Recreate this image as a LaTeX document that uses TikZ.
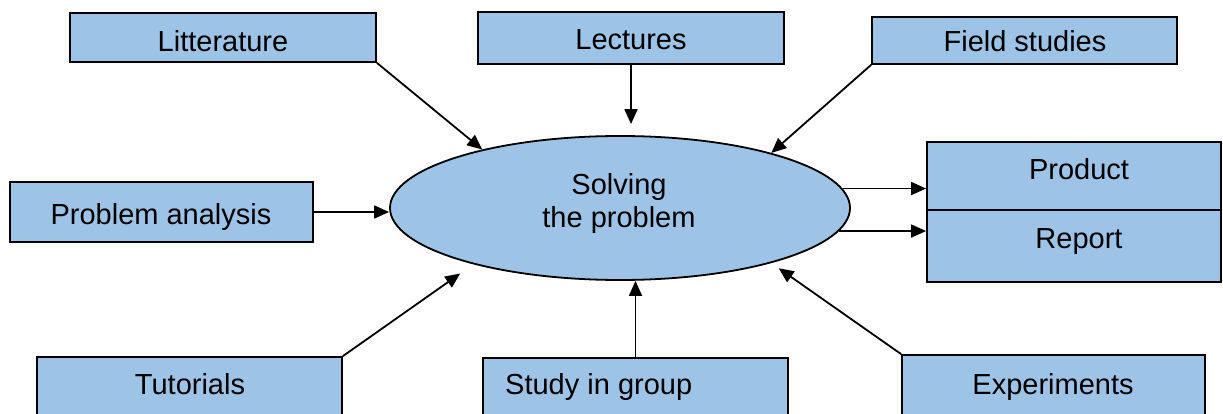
\documentclass[tikz,border=0pt]{standalone}
\usepackage{fontspec}
\setmainfont{Liberation Sans}
\usetikzlibrary{shapes.geometric,arrows.meta}
\definecolor{boxblue}{RGB}{157,195,230}
\begin{document}
\begin{tikzpicture}[x=1pt,y=-1pt,
  box/.style={draw=black,line width=1.8pt,fill=boxblue,rectangle,inner sep=0pt},
  lbl/.style={anchor=base,inner sep=0pt,font=\fontsize{29}{33}\selectfont},
  con/.style={line width=1.8pt,-{Triangle[length=15pt,width=13pt]}}]
\useasboundingbox (0,0) rectangle (1223,414);
\clip (0,0) rectangle (1223,414);
\fill[white] (0,0) rectangle (1223,414);
% boxes
\node[box,minimum width=306pt,minimum height=49pt] (lit) at (223,37.5) {};
\node[box,minimum width=306pt,minimum height=52pt] (lec) at (631,38) {};
\node[box,minimum width=305pt,minimum height=47pt] (fs) at (1024.5,40.5) {};
\node[box,minimum width=303pt,minimum height=60pt] (pa) at (161.5,212) {};
\node[box,ellipse,minimum width=460pt,minimum height=144pt] (ell) at (620,208) {};
\node[box,minimum width=294pt,minimum height=68pt] (pr) at (1074,176) {};
\node[box,minimum width=294pt,minimum height=72pt] (rp) at (1074,246) {};
\node[box,minimum width=305pt,minimum height=83pt] (tut) at (189.5,398.5) {};
\node[box,minimum width=305pt,minimum height=82pt] (sig) at (635.5,399) {};
\node[box,minimum width=303pt,minimum height=85pt] (exp) at (1053.5,397.5) {};
% labels
\node[lbl] (tlit) at (223,52) {Litterature};
\node[lbl] (tlec) at (631,50) {Lectures};
\node[lbl] (tfs) at (1025,52) {Field studies};
\node[lbl] (tpa) at (161,225) {Problem analysis};
\node[lbl,align=center] (tell) at (619,228) {Solving\\the problem};
\node[lbl] (tpr) at (1079,180) {Product};
\node[lbl] (trp) at (1079,248) {Report};
\node[lbl] (ttut) at (190,394) {Tutorials};
\node[lbl,anchor=base west] (tsig) at (505,394) {Study in group};
\node[lbl] (texp) at (1053,394) {Experiments};
% connectors
\draw[con] (lit.south east) -- (ell.157.5);
\draw[con,shorten >=11pt] (lec.south) -- (lec.south |- ell.north);
\draw[con] (fs.south west) -- (ell.20.5);
\draw[con] (pa.east) -- (pa.east -| ell.west);
\draw[con,shorten >=16pt] (tut.north east) -- (ell.201.2);
\draw[con] (sig.north) -- (sig.north |- ell.south);
\draw[con,shorten >=9pt] (exp.north west) -- (ell.340.6);
\draw[con] (ell.5.2) -- (ell.5.2 -| pr.west);
\draw[con] (ell.-6.9) -- (ell.-6.9 -| rp.west);
\end{tikzpicture}
\end{document}
